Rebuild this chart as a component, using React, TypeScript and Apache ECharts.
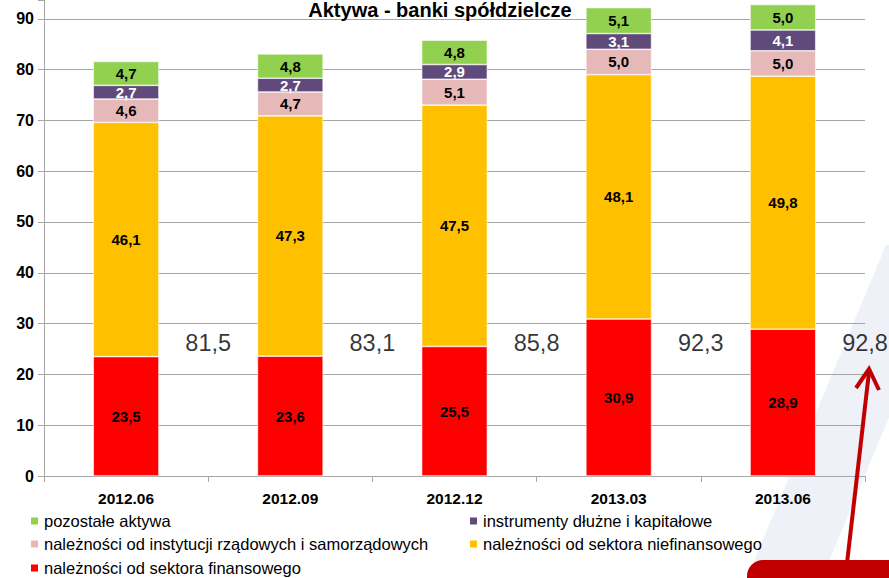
import React, { useEffect, useRef } from "react";
import * as echarts from "echarts";

const categories = ["2012.06", "2012.09", "2012.12", "2013.03", "2013.06"];
const pozostale = [4.7, 4.8, 4.8, 5.1, 5.0];
const instrumenty = [2.7, 2.7, 2.9, 3.1, 4.1];
const instytucje = [4.6, 4.7, 5.1, 5.0, 5.0];
const niefinansowy = [46.1, 47.3, 47.5, 48.1, 49.8];
const finansowy = [23.5, 23.6, 25.5, 30.9, 28.9];
const totals = [81.5, 83.1, 85.8, 92.3, 92.8];
const yTicks = [0, 10, 20, 30, 40, 50, 60, 70, 80, 90];

const FONT = '"Liberation Sans", Arial, sans-serif';
const fmt = (v: number) => v.toFixed(1).replace(".", ",");

const S_FIN = "należności od sektora finansowego";
const S_NIEFIN = "należności od sektora niefinansowego";
const S_INST = "należności od instytucji rządowych i samorządowych";
const S_INSTR = "instrumenty dłużne i kapitałowe";
const S_POZ = "pozostałe aktywa";

export default function App() {
  const ref = useRef<HTMLDivElement>(null);
  useEffect(() => {
    if (!ref.current) return;
    const chart = echarts.init(ref.current, null, { renderer: "svg" });
    const barLabel = (color: string) => ({
      show: true,
      position: "inside" as const,
      color,
      fontFamily: FONT,
      fontWeight: "bold" as const,
      fontSize: 15,
      formatter: (p: any) => fmt(p.value),
    });
    const mk = (name: string, data: number[], color: string, labelColor = "#000") => ({
      name,
      type: "bar" as const,
      stack: "a",
      data,
      barWidth: "40%",
      itemStyle: { color, borderColor: "#ffffff", borderWidth: 0.6 },
      label: barLabel(labelColor),
      z: 3,
    });
    const leg = (name: string, left: number, top: number) => ({
      left,
      top,
      padding: 0,
      orient: "horizontal",
      itemWidth: 9,
      itemHeight: 9,
      icon: "rect",
      textStyle: { fontFamily: FONT, fontSize: 16.5, lineHeight: 18, color: "#000" },
      data: [name],
    });
    chart.setOption({
      animation: false,
      backgroundColor: "#ffffff",
      legend: [
        leg(S_POZ, 29, 512),
        leg(S_INST, 29, 535),
        leg(S_FIN, 29, 559),
        leg(S_INSTR, 468, 512),
        leg(S_NIEFIN, 468, 535),
      ],
      grid: { left: 44, right: 24, top: 0, bottom: 102, containLabel: false },
      xAxis: [
        {
          type: "category",
          data: categories,
          axisLine: { lineStyle: { color: "#A6A6A6", width: 1 } },
          axisTick: { show: true, length: 6, lineStyle: { color: "#A6A6A6" } },
          axisLabel: {
            margin: 14,
            color: "#000",
            fontFamily: FONT,
            fontWeight: "bold",
            fontSize: 15.5,
          },
        },
        { type: "value", min: 0, max: 5, show: false },
      ],
      yAxis: {
        type: "value",
        min: 0,
        max: 93.7,
        interval: 10,
        axisLine: { show: true, lineStyle: { color: "#A6A6A6" } },
        axisTick: { show: true, length: 6, lineStyle: { color: "#A6A6A6" } },
        axisLabel: {
          margin: 10,
          color: "#000",
          fontFamily: FONT,
          fontWeight: "bold",
          fontSize: 16,
          formatter: (v: number) => (yTicks.includes(v) ? String(v) : ""),
        },
        splitLine: { showMaxLine: false, lineStyle: { color: "#A6A6A6", width: 1 } },
      },
      series: [
        mk(S_FIN, finansowy, "#FF0000"),
        mk(S_NIEFIN, niefinansowy, "#FFC000"),
        mk(S_INST, instytucje, "#E6B9B8"),
        mk(S_INSTR, instrumenty, "#604A7B", "#ffffff"),
        mk(S_POZ, pozostale, "#92D050"),
        {
          name: "suma",
          type: "scatter",
          xAxisIndex: 1,
          symbolSize: 0,
          data: totals.map((t, i) => [i + 1, 26.2, t]),
          label: {
            show: true,
            position: "inside",
            color: "#000000",
            fontFamily: FONT,
            fontSize: 23.5,
            formatter: (p: any) => fmt(p.value[2]),
          },
          z: 5,
        },
      ],
      graphic: [
        {
          type: "polygon",
          z: -10,
          silent: true,
          shape: { points: [[886, 245], [961, 245], [822, 578], [747, 578]] },
          style: { fill: "#EEF1F7" },
        },
        {
          type: "text",
          z: 50,
          x: 440,
          y: 20,
          style: {
            text: "Aktywa - banki spółdzielcze",
            fontFamily: FONT,
            fontWeight: "bold",
            fontSize: 20,
            fill: "#000",
            align: "center",
            verticalAlign: "bottom",
          },
        },
        {
          type: "rect",
          z: 100,
          shape: { x: 747, y: 560, width: 160, height: 40, r: [16, 0, 0, 0] },
          style: { fill: "#C00000" },
        },
        {
          type: "line",
          z: 100,
          shape: { x1: 846, y1: 572, x2: 869, y2: 372 },
          style: { stroke: "#C00000", lineWidth: 4 },
        },
        {
          type: "polyline",
          z: 100,
          shape: { points: [[856, 388], [869, 369], [879, 390]] },
          style: { stroke: "#C00000", lineWidth: 4, fill: "none", lineJoin: "miter" },
        },
      ],
    });
    return () => chart.dispose();
  }, []);
  return (
    <div
      ref={ref}
      style={{ position: "fixed", left: 0, top: 0, width: 889, height: 578 }}
    />
  );
}
